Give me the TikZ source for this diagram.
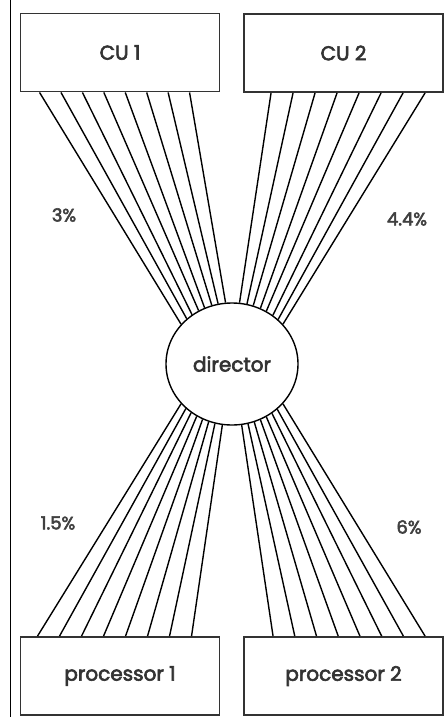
\documentclass[tikz,border=0pt]{standalone}
\usepackage{fontspec}
\setmainfont{Poppins}
\newfontfamily\lblfont{Poppins}[FakeBold=3]
\usetikzlibrary{shapes.geometric,calc}
\begin{document}
\begin{tikzpicture}[x=1pt,y=-1pt,
  boxnode/.style={draw=black!80,line width=1.9pt,minimum width=199pt,minimum height=78pt,inner sep=0pt,font=\lblfont\fontsize{20}{24}\selectfont,text=black!80},
  dirnode/.style={ellipse,draw=black,line width=1.4pt,minimum width=132pt,minimum height=122pt,inner sep=0pt,font=\lblfont\fontsize{20}{24}\selectfont,text=black!80},
  fan/.style={line width=1.4pt,black},
  pct/.style={font=\lblfont\fontsize{18}{21}\selectfont,text=black!75,inner sep=0pt}]
\useasboundingbox (0,0) rectangle (444,717);
\fill[white] (0,0) rectangle (444,717);
\coordinate (ltop) at (10.5,0);
\coordinate (lbot) at (10.5,717);
\draw[line width=1pt] (ltop) -- (lbot);
\node[boxnode] (cu1) at (120,52.5) {CU 1};
\node[boxnode] (cu2) at (343.5,53) {CU 2};
\node[boxnode] (p1) at (120,676) {processor 1};
\node[boxnode] (p2) at (343.5,676) {processor 2};
\node[dirnode] (dir) at (232,364) {director};
% CU1 fan
\foreach \i in {0,...,7}{
  \pgfmathsetmacro{\xo}{20+\i*150/7}
  \pgfmathsetmacro{\ang}{142-\i*45.5/7}
  \draw[fan] ($(cu1.south west)+(\xo,0)$) -- (dir.\ang);
}
% CU2 fan
\foreach \i in {0,...,7}{
  \pgfmathsetmacro{\xo}{28+\i*154/7}
  \pgfmathsetmacro{\ang}{83-\i*45/7}
  \draw[fan] ($(cu2.south west)+(\xo,0)$) -- (dir.\ang);
}
% processor 1 fan
\foreach \i in {0,...,7}{
  \pgfmathsetmacro{\xo}{18+\i*154/7}
  \pgfmathsetmacro{\ang}{218+\i*43/7}
  \draw[fan] ($(p1.north west)+(\xo,0)$) -- (dir.\ang);
}
% processor 2 fan
\foreach \i in {0,...,7}{
  \pgfmathsetmacro{\xo}{30+\i*152/7}
  \pgfmathsetmacro{\ang}{279+\i*43/7}
  \draw[fan] ($(p2.north west)+(\xo,0)$) -- (dir.\ang);
}
\node[pct] (l1) at (64,215) {3\%};
\node[pct] (l2) at (407,219) {4.4\%};
\node[pct] (l3) at (58,523) {1.5\%};
\node[pct] (l4) at (409,527) {6\%};
\end{tikzpicture}
\end{document}
